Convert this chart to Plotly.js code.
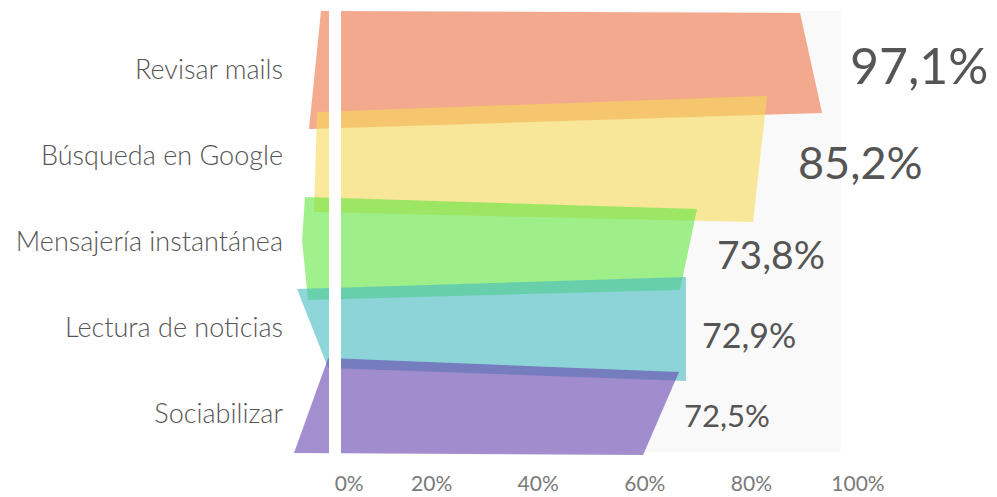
<!DOCTYPE html>
<html>
<head>
<meta charset="utf-8">
<script src="https://cdn.plot.ly/plotly-3.0.1.min.js"></script>
<style>
  html, body { margin: 0; padding: 0; background: #ffffff; }
  #chart { width: 997px; height: 497px; }
</style>
</head>
<body>
<div id="chart"></div>
<script>
// ---- data ----
const categories = ['Revisar mails', 'Búsqueda en Google', 'Mensajería instantánea', 'Lectura de noticias', 'Sociabilizar'];
const values = [97.1, 85.2, 73.8, 72.9, 72.5];
const valueLabels = ['97,1%', '85,2%', '73,8%', '72,9%', '72,5%'];
const xTickVals = [0, 20, 40, 60, 80, 100];
const xTickText = ['0%', '20%', '40%', '60%', '80%', '100%'];

// ---- style ----
const barColors = ['rgba(237,115,70,0.6)', 'rgba(247,218,87,0.6)', 'rgba(97,230,63,0.6)', 'rgba(68,187,193,0.6)', 'rgba(102,67,175,0.6)'];
// hand-drawn skew of each bar: left corners relative to 0, right corners relative to the value; y relative to row centre
const skew = [
  {tl: [-0.75, -0.686], tr: [-7.97, -0.663], br: [-3.85, 0.50], bl: [-3.0, 0.686], ml: null},
  {tl: [-1.5, -0.512], tr: [-2.27, -0.698], br: [-4.9, 0.767], bl: [-2.06, 0.651], ml: null},
  {tl: [-3.75, -0.523], tr: [-4.0, -0.384], br: [-7.2, 0.558], bl: [-3.19, 0.674], ml: [-4.3, -0.02]},
  {tl: [-5.25, -0.453], tr: [-5.18, -0.593], br: [-5.18, 0.616], bl: [0.6, 0.465], ml: null},
  {tl: [0.6, -0.65], tr: [-6.08, -0.488], br: [-12.83, 0.477], bl: [-5.82, 0.453], ml: null}
];
const labelFontSizes = [50, 45, 39, 34, 31];
const labelShift = [[5, 5], [17, -6], [-3, -12], [-14, -7], [-29, -1]];

const traces = values.map((v, i) => {
  const s = skew[i];
  const xs = [s.tl[0], v + s.tr[0], v + s.br[0], s.bl[0]];
  const ys = [i + s.tl[1], i + s.tr[1], i + s.br[1], i + s.bl[1]];
  if (s.ml) { xs.push(s.ml[0]); ys.push(i + s.ml[1]); }
  xs.push(xs[0]); ys.push(ys[0]);
  return {
    type: 'scatter', mode: 'lines', x: xs, y: ys, fill: 'toself',
    fillcolor: barColors[i], line: {width: 0, color: 'rgba(0,0,0,0)'},
    hoverinfo: 'skip', showlegend: false, name: categories[i]
  };
});

const annotations = values.map((v, i) => ({
  x: v, y: i, xref: 'x', yref: 'y', xanchor: 'left', yanchor: 'middle',
  xshift: labelShift[i][0], yshift: labelShift[i][1],
  text: valueLabels[i], showarrow: false,
  font: {family: 'Lato, "Open Sans", sans-serif', size: labelFontSizes[i], color: '#555555'}
}));

const layout = {
  width: 997, height: 497,
  margin: {l: 290, r: 107, t: 0, b: 37, pad: 0},
  paper_bgcolor: '#ffffff', plot_bgcolor: '#ffffff',
  showlegend: false,
  xaxis: {
    range: [-6.567, 106.0], tickvals: xTickVals,
    ticktext: xTickText.map((t, i) => i === 0 ? '\u00a0'.repeat(9) + t : t),
    showgrid: false, zeroline: false, showline: false, ticks: '',
    ticklabelstandoff: 9,
    tickfont: {family: 'Lato, "Open Sans", sans-serif', size: 21, color: '#7a7a7a'},
    fixedrange: true
  },
  yaxis: {
    range: [4.535, -0.814], tickvals: categories.map((c, i) => i), ticktext: categories,
    showgrid: false, zeroline: false, showline: false, ticks: '',
    ticklabelstandoff: 6,
    tickfont: {family: 'Lato, "Open Sans", sans-serif', size: 27, color: '#555555', weight: 300},
    fixedrange: true
  },
  shapes: [
    {type: 'rect', layer: 'below', xref: 'x', yref: 'y', x0: 3.0, x1: 96.8, y0: -0.686, y1: 4.442,
     fillcolor: '#f9f9f9', line: {width: 0}},
    {type: 'rect', layer: 'above', xref: 'x', yref: 'paper', x0: 0.75, x1: 3.0, y0: 0, y1: 1,
     fillcolor: '#ffffff', line: {width: 0}}
  ],
  annotations: annotations
};

Plotly.newPlot('chart', traces, layout, {displayModeBar: false, staticPlot: true});
</script>
</body>
</html>
